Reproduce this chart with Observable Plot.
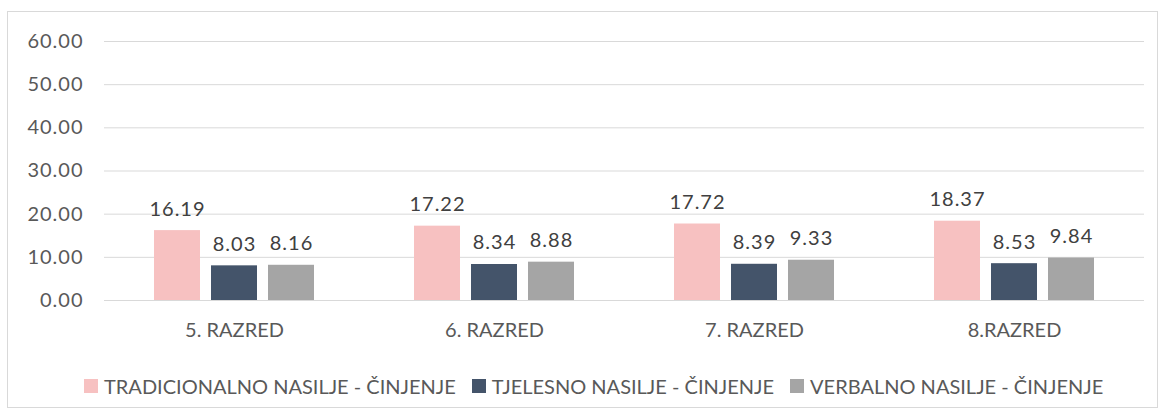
<!DOCTYPE html>
<html>
<head>
<meta charset="utf-8">
<script src="https://cdn.jsdelivr.net/npm/d3@7"></script>
<script src="https://cdn.jsdelivr.net/npm/@observablehq/plot@0.6"></script>
<style>
  html, body { margin: 0; padding: 0; background: #fff; }
  #wrap { position: relative; width: 1165px; height: 417px; font-family: Lato, "Open Sans", sans-serif; }
  #frame { position: absolute; left: 7px; top: 11px; width: 1151px; height: 397px; border: 1px solid #d9d9d9; box-sizing: border-box; }
  #chart { position: absolute; left: 0; top: 0; }
  #legend { position: absolute; left: 84px; top: 374px; height: 24px; display: flex; align-items: center; font-size: 20px; color: #595959; white-space: nowrap; }
  #legend .item { display: flex; align-items: center; margin-right: 16px; }
  #legend .sw { width: 14px; height: 14px; margin-right: 6px; }
  .num text { letter-spacing: 1px; }
</style>
</head>
<body>
<div id="wrap">
  <div id="frame"></div>
  <div id="chart"></div>
  <div id="legend"></div>
</div>
<script>
const groups = ["5. RAZRED", "6. RAZRED", "7. RAZRED", "8.RAZRED"];
const seriesNames = ["TRADICIONALNO NASILJE - ČINJENJE", "TJELESNO NASILJE - ČINJENJE", "VERBALNO NASILJE - ČINJENJE"];
const seriesColors = ["#F7C1C1", "#44546A", "#A5A5A5"];
const tradicionalno = [16.19, 17.22, 17.72, 18.37];
const tjelesno = [8.03, 8.34, 8.39, 8.53];
const verbalno = [8.16, 8.88, 9.33, 9.84];
const yTicks = [0, 10, 20, 30, 40, 50, 60];

const seriesValues = [tradicionalno, tjelesno, verbalno];
const data = [];
groups.forEach((g, gi) => {
  seriesNames.forEach((s, si) => {
    data.push({group: g, series: s, value: seriesValues[si][gi]});
  });
});

const fmt = d3.format(".2f");

const chart = Plot.plot({
  width: 1165,
  height: 350,
  marginLeft: 102,
  marginRight: 20,
  marginTop: 41,
  marginBottom: 50,
  style: {fontFamily: "Lato, 'Open Sans', sans-serif", background: "transparent"},
  fx: {domain: groups, paddingInner: 0, paddingOuter: 0, label: null},
  x: {domain: seriesNames, paddingInner: 0.2, paddingOuter: 0.85, axis: null},
  y: {domain: [0, 60], label: null},
  color: {domain: seriesNames, range: seriesColors},
  marks: [
    Plot.gridY(yTicks, {stroke: "#d9d9d9", strokeOpacity: 1, strokeWidth: 1}),
    Plot.axisY(yTicks, {tickSize: 0, tickPadding: 21, tickFormat: fmt, fontSize: 20, fill: "#595959", label: null, className: "num"}),
    Plot.axisFx({anchor: "bottom", tickSize: 0, tickPadding: 22, fontSize: 20, fill: "#595959", label: null}),
    Plot.barY(data, {fx: "group", x: "series", y: "value", fill: "series"}),
    Plot.text(data, {fx: "group", x: "series", y: "value", text: d => fmt(d.value), lineAnchor: "bottom", dy: -15, fontSize: 20, fill: "#404040", className: "num"})
  ]
});
document.getElementById("chart").appendChild(chart);

const legend = document.getElementById("legend");
seriesNames.forEach((s, i) => {
  const item = document.createElement("div");
  item.className = "item";
  const sw = document.createElement("div");
  sw.className = "sw";
  sw.style.background = seriesColors[i];
  const t = document.createElement("span");
  t.textContent = s;
  item.appendChild(sw);
  item.appendChild(t);
  legend.appendChild(item);
});
</script>
</body>
</html>
